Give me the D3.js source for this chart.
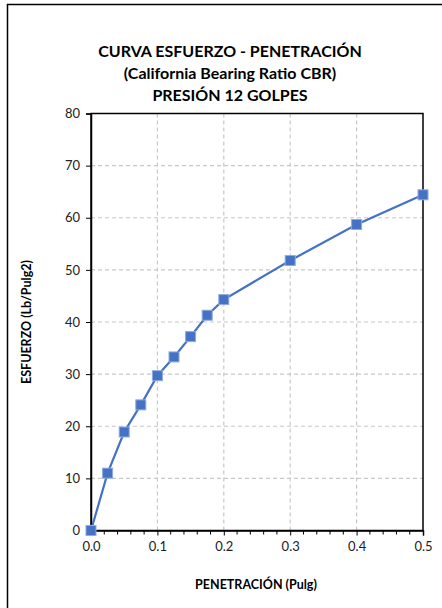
<!DOCTYPE html>
<html><head><meta charset="utf-8">
<script src="https://cdn.jsdelivr.net/npm/d3@7"></script>
<style>body{margin:0;background:#fff}svg{display:block}text{font-family:Lato,"Open Sans",sans-serif}</style>
</head><body><svg id="c" width="442" height="608"></svg>
<script>
const penetracion = [0, 0.025, 0.05, 0.075, 0.1, 0.125, 0.15, 0.175, 0.2, 0.3, 0.4, 0.5];
const esfuerzo = [0, 11.0, 18.9, 24.1, 29.7, 33.3, 37.2, 41.3, 44.3, 51.8, 58.7, 64.4];
const xTicks = [0, 0.1, 0.2, 0.3, 0.4, 0.5];
const yTicks = [0, 10, 20, 30, 40, 50, 60, 70, 80];
const titleLines = ["CURVA ESFUERZO - PENETRACIÓN", "(California Bearing Ratio CBR)", "PRESIÓN 12 GOLPES"];

const svg = d3.select("#c");
const L = 91, R = 423, T = 113.5, B = 530.5;
const x = d3.scaleLinear().domain([0, 0.5]).range([L, R]);
const y = d3.scaleLinear().domain([0, 80]).range([B, T]);

// outer frame
svg.append("path").attr("d", `M7.5,610 V4.5 H442`).attr("fill","none").attr("stroke","#000").attr("stroke-width",1.5);

// grid
const g = svg.append("g");
g.selectAll(".gx").data(xTicks.slice(1,-1)).join("line")
  .attr("x1", d=>x(d)).attr("x2", d=>x(d)).attr("y1", T).attr("y2", B)
  .attr("stroke","#c8c8c8").attr("stroke-dasharray","4,3").attr("stroke-width",1.2);
g.selectAll(".gy").data(yTicks.slice(1,-1)).join("line")
  .attr("y1", d=>y(d)).attr("y2", d=>y(d)).attr("x1", L).attr("x2", R)
  .attr("stroke","#c8c8c8").attr("stroke-dasharray","4,3").attr("stroke-width",1.2);

// frame of plot
svg.append("rect").attr("x", L).attr("y", T).attr("width", R-L).attr("height", B-T)
  .attr("fill","none").attr("stroke","#000").attr("stroke-width",1.5);

// axes
const xAxis = d3.axisBottom(x).tickValues(xTicks).tickFormat(d3.format(".1f")).tickSize(5).tickPadding(6);
const xa = svg.append("g").attr("transform", `translate(0,${B})`).call(xAxis);
const minor = d3.range(0, 0.5001, 0.02).filter(v => Math.abs(v*10 - Math.round(v*10)) > 1e-6);
svg.append("g").selectAll("line").data(minor).join("line")
  .attr("x1", d=>x(d)).attr("x2", d=>x(d)).attr("y1", B).attr("y2", B+4).attr("stroke","#000").attr("stroke-width",1);
const yAxis = d3.axisLeft(y).tickValues(yTicks).tickSize(5).tickPadding(6);
const ya = svg.append("g").attr("transform", `translate(${L},0)`).call(yAxis);
[xa, ya].forEach(a => {
  a.select(".domain").attr("stroke","#000").attr("stroke-width",1.5);
  a.selectAll(".tick line").attr("stroke","#000");
  a.selectAll(".tick text").attr("font-size","13px").attr("fill","#222").attr("font-family","Lato, 'Open Sans', sans-serif");
});

// line
const line = d3.line().x((d,i)=>x(penetracion[i])).y(d=>y(d));
svg.append("path").datum(esfuerzo).attr("d", line).attr("fill","none").attr("stroke","#4472C4").attr("stroke-width",2.2);
svg.append("g").selectAll("rect").data(esfuerzo).join("rect")
  .attr("x",(d,i)=>x(penetracion[i])-5).attr("y",d=>y(d)-5).attr("width",10).attr("height",10)
  .attr("fill","#4472C4").attr("stroke","#8FAADC").attr("stroke-width",1);

// title
svg.append("g").selectAll("text").data(titleLines).join("text")
  .attr("x", 230).attr("y",(d,i)=>56.5 + i*22).attr("text-anchor","middle")
  .attr("font-size","16px").attr("font-weight","bold").attr("fill","#000").text(d=>d);

// axis titles
svg.append("text").attr("x", (L+R)/2 - 1).attr("y", 589).attr("text-anchor","middle")
  .attr("font-size","12.5px").attr("font-weight","bold").text("PENETRACIÓN (Pulg)");
svg.append("text").attr("transform", `translate(31,${(T+B)/2}) rotate(-90)`).attr("text-anchor","middle")
  .attr("font-size","12.5px").attr("font-weight","bold").text("ESFUERZO (Lb/Pulg2)");
</script></body></html>
